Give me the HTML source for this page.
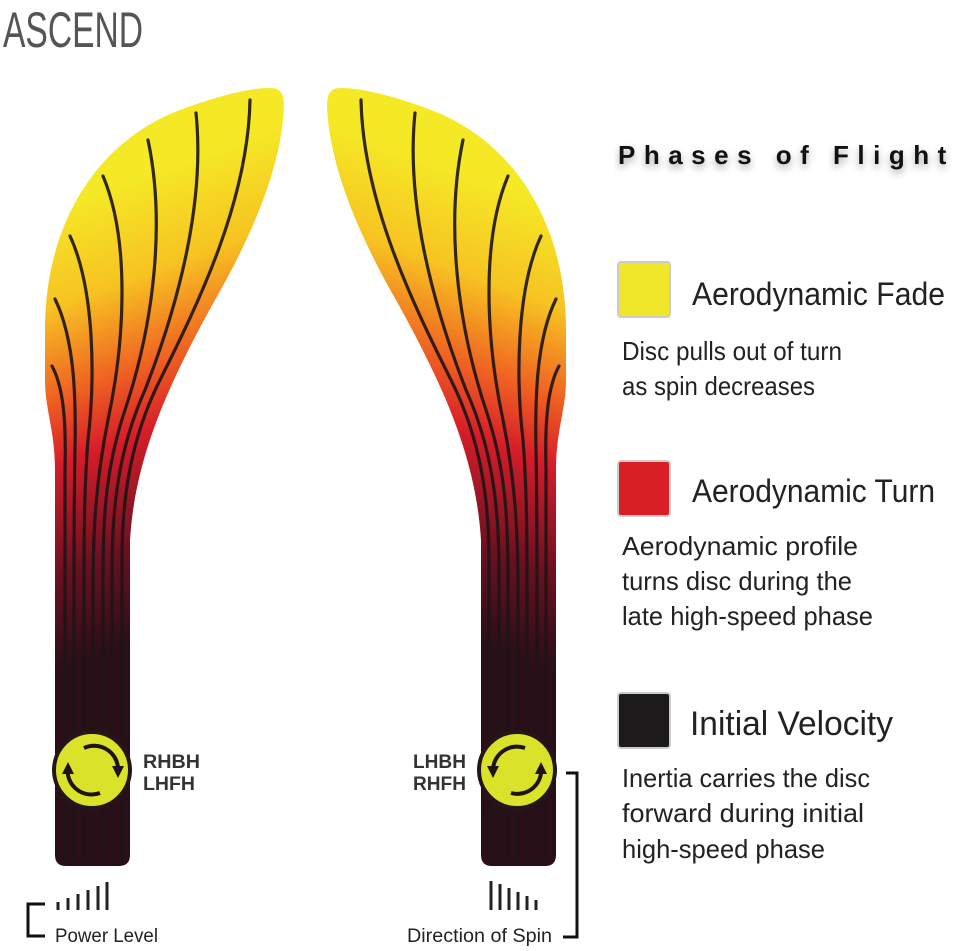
<!DOCTYPE html>
<html><head><meta charset="utf-8"><style>
html,body{margin:0;padding:0;background:#fff;width:960px;height:951px;overflow:hidden}
svg text{font-family:"Liberation Sans",sans-serif}
</style></head><body>
<svg width="960" height="951" viewBox="0 0 960 951" xmlns="http://www.w3.org/2000/svg">
<defs>
<linearGradient id="g" gradientUnits="userSpaceOnUse" x1="40" y1="210" x2="190" y2="620">
<stop offset="0" stop-color="#f5e926"/>
<stop offset="0.22" stop-color="#f7c322"/>
<stop offset="0.42" stop-color="#ef5f22"/>
<stop offset="0.56" stop-color="#d61d29"/>
<stop offset="0.8" stop-color="#6a1020"/>
<stop offset="1" stop-color="#2b0f18"/>
</linearGradient>
<filter id="sh" x="-10%" y="-50%" width="120%" height="200%"><feGaussianBlur stdDeviation="4"/></filter>
<g id="wing">
<path d="M55,855 L55,470 C55,430 45,410 45,380 L45,330 C45,220 100,140 180,110 C220,95 250,88 270,88 C285,88 285,100 283,120 C278,170 255,230 215,300 C165,390 135,460 130,540 L130,855 Q130,866 119,866 L66,866 Q55,866 55,855 Z" fill="url(#g)"/>
<g fill="none" stroke="#1e1416" stroke-width="3.2" stroke-linecap="round" opacity="0.9">
<path d="M250,100 C248,200 200,300 160,380 C130,440 122,500 122,560 L122,860"/>
<path d="M196,113 C205,200 180,300 145,390 C118,450 112,510 112,570 L112,860"/>
<path d="M148,140 C165,220 155,320 125,410 C105,470 103,520 103,580 L103,860"/>
<path d="M103,176 C130,240 125,340 108,420 C96,480 93,530 93,590 L93,860"/>
<path d="M70,236 C95,290 95,380 88,440 C84,490 84,540 84,600 L84,860"/>
<path d="M55,299 C75,340 76,400 75,450 C74,500 74,550 74,610 L74,860"/>
<path d="M52,366 C65,390 66,430 65,470 C65,520 65,560 65,620 L65,860"/>
</g>
</g>
</defs>
<use href="#wing"/>
<use href="#wing" transform="translate(611,0) scale(-1,1)"/>

<text x="3" y="47" font-size="50" fill="#555" textLength="140" lengthAdjust="spacingAndGlyphs">ASCEND</text>

<circle cx="92" cy="770" r="38" fill="#dbe22a" stroke="#241618" stroke-width="4"/>
<g fill="none" stroke="#1e1416" stroke-width="4">
<path d="M84,748 A24,24 0 0 1 118,772"/>
<path d="M100,793 A24,24 0 0 1 68,766"/>
</g>
<polygon points="112,766 124,766 118,778" fill="#1e1416"/>
<polygon points="62,774 74,774 68,762" fill="#1e1416"/>
<circle cx="517" cy="770" r="38" fill="#dbe22a" stroke="#241618" stroke-width="4"/>
<g fill="none" stroke="#1e1416" stroke-width="4">
<path d="M525,748 A24,24 0 0 0 493,772"/>
<path d="M511,793 A24,24 0 0 0 541,766"/>
</g>
<polygon points="487,766 499,766 493,778" fill="#1e1416"/>
<polygon points="535,774 547,774 541,762" fill="#1e1416"/>

<g font-weight="bold" font-size="19" fill="#333">
<text x="143" y="768" textLength="57" lengthAdjust="spacingAndGlyphs">RHBH</text>
<text x="143" y="790" textLength="52" lengthAdjust="spacingAndGlyphs">LHFH</text>
<text x="413" y="768" textLength="53" lengthAdjust="spacingAndGlyphs">LHBH</text>
<text x="413" y="790" textLength="53" lengthAdjust="spacingAndGlyphs">RHFH</text>
</g>

<g stroke="#222" stroke-width="3">
<line x1="58" y1="902" x2="58" y2="910"/>
<line x1="68" y1="898" x2="68" y2="910"/>
<line x1="78" y1="894" x2="78" y2="910"/>
<line x1="88" y1="890" x2="88" y2="910"/>
<line x1="98" y1="886" x2="98" y2="910"/>
<line x1="107" y1="882" x2="107" y2="910"/>
<line x1="491" y1="881" x2="491" y2="910"/>
<line x1="500" y1="884" x2="500" y2="910"/>
<line x1="509" y1="888" x2="509" y2="910"/>
<line x1="518" y1="892" x2="518" y2="910"/>
<line x1="527" y1="896" x2="527" y2="910"/>
<line x1="536" y1="900" x2="536" y2="910"/>
</g>
<g fill="none" stroke="#111" stroke-width="3">
<polyline points="45,904 28,904 28,936 45,936"/>
<polyline points="566,773 577,773 577,937 563,937"/>
</g>
<g font-size="19" fill="#222">
<text x="55" y="942" textLength="103" lengthAdjust="spacingAndGlyphs">Power Level</text>
<text x="407" y="942" textLength="145" lengthAdjust="spacingAndGlyphs">Direction of Spin</text>
</g>

<text x="618" y="168" font-size="26" font-weight="bold" fill="#000" opacity="0.35" filter="url(#sh)" letter-spacing="8.5">Phases of Flight</text>
<text x="618" y="164" font-size="26" font-weight="bold" fill="#111" letter-spacing="8.5">Phases of Flight</text>

<rect x="618" y="262" width="52" height="55" rx="3" fill="#f0e62a" stroke="#ccc" stroke-width="2"/>
<rect x="618" y="461" width="52" height="55" rx="3" fill="#d91f26" stroke="#ccc" stroke-width="2"/>
<rect x="618" y="693" width="52" height="55" rx="3" fill="#1d1a1b" stroke="#ccc" stroke-width="2"/>

<g fill="#222">
<text x="692" y="305" font-size="32" textLength="253" lengthAdjust="spacingAndGlyphs">Aerodynamic Fade</text>
<text x="692" y="502" font-size="32" textLength="243" lengthAdjust="spacingAndGlyphs">Aerodynamic Turn</text>
<text x="690" y="735" font-size="34" textLength="203" lengthAdjust="spacingAndGlyphs">Initial Velocity</text>
<g font-size="26">
<text x="622" y="360" textLength="220" lengthAdjust="spacingAndGlyphs">Disc pulls out of turn</text>
<text x="622" y="395" textLength="193" lengthAdjust="spacingAndGlyphs">as spin decreases</text>
<text x="622" y="555" textLength="236" lengthAdjust="spacingAndGlyphs">Aerodynamic profile</text>
<text x="622" y="590" textLength="230" lengthAdjust="spacingAndGlyphs">turns disc during the</text>
<text x="622" y="625" textLength="251" lengthAdjust="spacingAndGlyphs">late high-speed phase</text>
<text x="622" y="787" textLength="248" lengthAdjust="spacingAndGlyphs">Inertia carries the disc</text>
<text x="622" y="822" textLength="242" lengthAdjust="spacingAndGlyphs">forward during initial</text>
<text x="622" y="858" textLength="203" lengthAdjust="spacingAndGlyphs">high-speed phase</text>
</g>
</g>
</svg>
</body></html>
